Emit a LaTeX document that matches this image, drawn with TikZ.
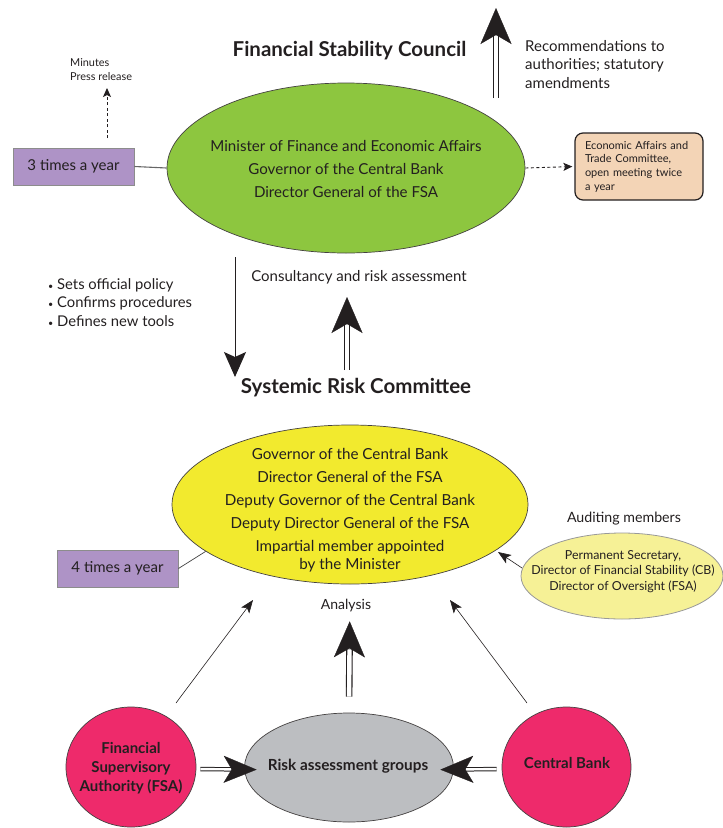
\documentclass[tikz,border=0pt]{standalone}
\usepackage{fontspec}
\setmainfont{Lato}
\usetikzlibrary{arrows.meta,shapes.geometric}
\definecolor{ink}{HTML}{231F20}
\definecolor{fscgreen}{HTML}{8DC63F}
\definecolor{srcyellow}{HTML}{F2EA2E}
\definecolor{audyellow}{HTML}{F6F196}
\definecolor{lilac}{HTML}{AE93C6}
\definecolor{peach}{HTML}{F3D4B6}
\definecolor{rose}{HTML}{EE2A6B}
\definecolor{stone}{HTML}{BCBEC1}
\newcommand{\fs}[2]{\fontsize{#1}{#2}\selectfont}
\tikzset{
  oval/.style={ellipse, draw=ink!85, line width=0.7pt, inner sep=0pt},
  txt/.style={align=center, inner sep=0pt, text=ink},
  datebox/.style={rectangle, draw=black!45, line width=0.9pt, fill=lilac, inner sep=0pt,
    minimum width=121pt, minimum height=37pt, font=\fs{15}{18}, text=ink},
  vshaft/.style={draw=ink, line width=1.1pt, double=white, double distance=4.4pt},
  hshaft/.style={draw=ink, line width=1pt, double=white, double distance=2.4pt},
  vhead/.style={draw=ink, fill=ink, line width=0.3pt, -{Stealth[length=36pt, width=31pt, inset=9pt]}},
  hhead/.style={draw=ink, fill=ink, line width=0.3pt, -{Stealth[length=33pt, width=27pt, inset=8pt]}},
  thinarrow/.style={draw=ink, line width=0.6pt, -{Stealth[length=13pt, width=10pt, inset=3pt]}},
  dasharrow/.style={draw=ink, line width=0.9pt, dash pattern=on 3pt off 2.5pt, -{Stealth[length=9pt, width=8pt, inset=2pt]}},
}
\begin{document}
\begin{tikzpicture}[x=1pt, y=-1pt]
\useasboundingbox (0,0) rectangle (723,828);

% ---------- Financial Stability Council ----------
\node[txt, font=\bfseries\fs{20.5}{24}] (fsctitle) at (349.5,51) {Financial Stability Council};
\node[oval, fill=fscgreen, minimum width=358pt, minimum height=170pt] (fsc) at (346,168) {};
\node[txt, font=\fs{15.1}{23}] (fsctext) at (346,169)
  {Minister of Finance and Economic Affairs\\Governor of the Central Bank\\Director General of the FSA};

\node[datebox] (q3) at (73.5,166.5) {3 times a year};
\draw[black!60, line width=1.1pt] (q3.east) -- (fsc.west);

\node[txt, font=\fs{10.9}{14}, align=left, anchor=west] (minutes) at (70,70) {Minutes\\Press release};
\coordinate (minA) at (107,138);
\coordinate (minB) at (107,88);
\draw[dasharrow] (minA) -- (minB);

% recommendations arrow
\coordinate (recA) at (496,98);
\coordinate (recB) at (496,8);
\draw[vshaft, shorten >=27pt] (recA) -- (recB);
\draw[vhead, shorten <=78pt] (recA) -- (recB);
\node[txt, font=\fs{15}{18.5}, align=left, anchor=west] (rec) at (525,64.5)
  {Recommendations to\\authorities; statutory\\amendments};

% committee box
\node[rectangle, rounded corners=8pt, draw=ink, line width=1.2pt, fill=peach,
  minimum width=128pt, minimum height=67pt, inner xsep=10pt, inner ysep=0pt,
  text width=108pt, align=left, font=\fs{11}{13.7}, text=ink] (eatc) at (639,166.5)
  {Economic Affairs and\\Trade Committee,\\open meeting twice\\a year};
\draw[dasharrow, shorten >=2pt] (fsc.east) -- (eatc.west);

% ---------- between the two bodies ----------
\node[txt, font=\fs{14.8}{18.5}, align=left, anchor=west] (tasks) at (48,302.5)
  {{\small\textbullet} Sets official policy\\{\small\textbullet} Confirms procedures\\{\small\textbullet} Defines new tools};
\coordinate (downA) at (235,257);
\coordinate (downB) at (235,377);
\draw[draw=ink, line width=1pt, -{Stealth[length=25pt, width=22pt, inset=5pt]}] (downA) -- (downB);

\node[txt, font=\fs{15}{18}] (cons) at (359,277) {Consultancy and risk assessment};
\coordinate (consA) at (347,370);
\coordinate (consB) at (347,297);
\draw[vshaft, shorten >=28pt] (consA) -- (consB);
\draw[vhead, shorten <=61pt] (consA) -- (consB);

% ---------- Systemic Risk Committee ----------
\node[txt, font=\bfseries\fs{20.5}{24}] (srctitle) at (356,388) {Systemic Risk Committee};
\node[oval, fill=srcyellow, minimum width=356pt, minimum height=159pt] (src) at (350,504.5) {};
\node[txt, font=\fs{15.2}{23}] (srctext) at (350,510.5)
  {Governor of the Central Bank\\Director General of the FSA\\Deputy Governor of the Central Bank\\
   Deputy Director General of the FSA\\Impartial member appointed\\[-5pt]by the Minister};

\node[datebox] (q4) at (117.5,568.5) {4 times a year};
\draw[black!75, line width=0.7pt] (q4.east) -- (src.198);

\node[txt, font=\fs{14.2}{17}] (audlabel) at (624,519) {Auditing members};
\node[ellipse, draw=black!40, line width=0.8pt, fill=audyellow, inner sep=0pt,
  minimum width=202pt, minimum height=86pt] (aud) at (622,576) {};
\node[txt, font=\fs{12.4}{15.5}] (audtext) at (623,571.5)
  {Permanent Secretary,\\Director of Financial Stability (CB)\\Director of Oversight (FSA)};
\coordinate (audA) at (522,568);
\coordinate (audB) at (498,552);
\draw[thinarrow] (audA) -- (audB);

\node[txt, font=\fs{14}{17}] (analysis) at (346,606) {Analysis};

% ---------- bottom row ----------
\node[oval, fill=rose, minimum width=130pt, minimum height=120pt] (fsa) at (131,767) {};
\node[txt, font=\bfseries\fs{15}{19}] (fsatext) at (131,768)
  {Financial\\Supervisory\\Authority (FSA)};
\node[oval, fill=stone, minimum width=209pt, minimum height=109pt] (rag) at (349,767.5) {};
\node[txt, font=\bfseries\fs{15.3}{18}] (ragtext) at (348,766) {Risk assessment groups};
\node[oval, fill=rose, minimum width=129pt, minimum height=120pt] (cb) at (566.5,767) {};
\node[txt, font=\bfseries\fs{15}{18}] (cbtext) at (567,763) {Central Bank};

% analysis flow up to the committee
\draw[vshaft, shorten <=16pt, shorten >=65pt] (rag.north) -- (src.south);
\draw[vhead, shorten <=79pt, shorten >=37pt] (rag.north) -- (src.south);

% inputs to the risk assessment groups
\draw[hshaft, shorten <=4pt, shorten >=12.5pt] ([yshift=-2pt]fsa.east) -- ([yshift=-2pt]rag.west);
\draw[hhead, shorten <=49pt, shorten >=-12.5pt] ([yshift=-2pt]fsa.east) -- ([yshift=-2pt]rag.west);
\draw[hshaft, shorten <=5pt, shorten >=11.5pt] ([yshift=-2pt]cb.west) -- ([yshift=-2pt]rag.east);
\draw[hhead, shorten <=48pt, shorten >=-13.5pt] ([yshift=-2pt]cb.west) -- ([yshift=-2pt]rag.east);

% direct lines from the authorities
\coordinate (fsaout) at (176,703);
\coordinate (srcinL) at (253,600);
\coordinate (cbout) at (527,703);
\coordinate (srcinR) at (450,600);
\draw[thinarrow] (fsaout) -- (srcinL);
\draw[thinarrow] (cbout) -- (srcinR);
\end{tikzpicture}
\end{document}
